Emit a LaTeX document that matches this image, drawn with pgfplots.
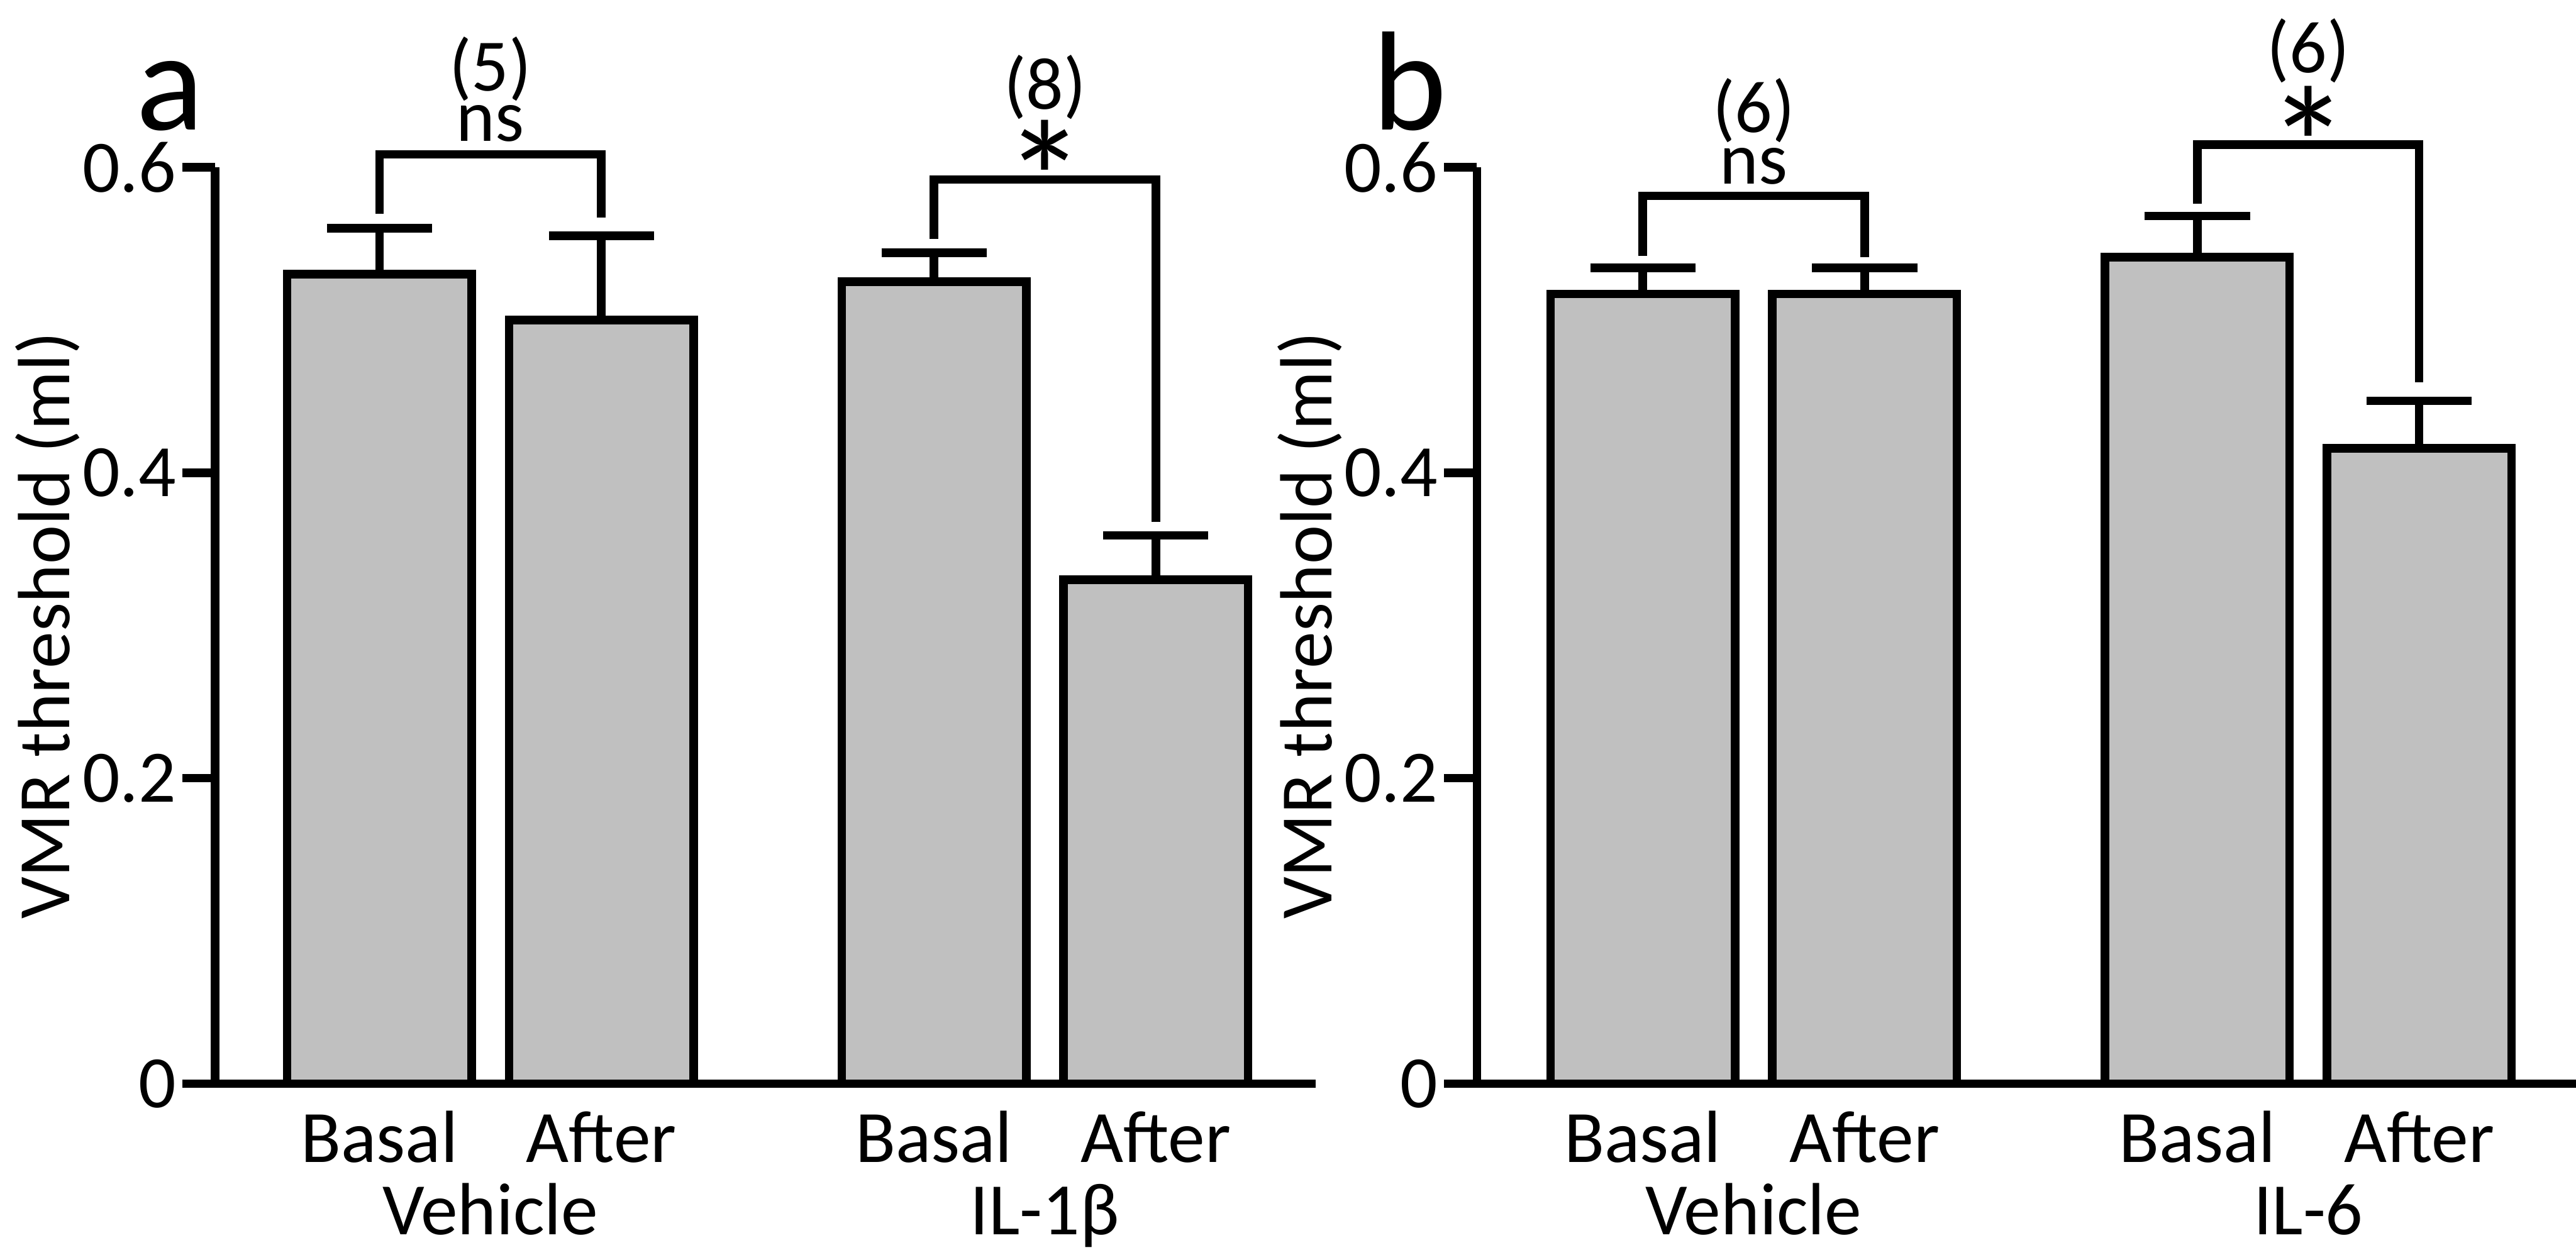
\documentclass[border=0pt]{standalone}
\usepackage{fontspec}
\setmainfont{Carlito}
\usepackage{pgfplots}
\pgfplotsset{compat=1.18}
\usepackage{pgfplotstable}

\definecolor{barfill}{RGB}{192,192,192}
\newcommand\lblfont{\fontsize{11.25}{13.5}\selectfont}
\newcommand\panelfont{\fontsize{21.5}{25}\selectfont}
\newcommand\starfont{\fontsize{25}{28}\selectfont}
\tikzset{ann/.style={anchor=base, inner sep=0pt}}

\pgfplotstableread{
x y e
0 0.530 0.030
1 0.500 0.055
2.5 0.525 0.019
3.5 0.330 0.029
}\dataA
\pgfplotstableread{
x y e
0 0.517 0.017
1 0.517 0.017
2.5 0.541 0.027
3.5 0.416 0.031
}\dataB

\pgfplotsset{
  vmr/.style={
    scale only axis, height=139.5pt, ymin=0, ymax=0.6,
    axis x line=bottom, axis y line=left,
    axis line style={-, line width=1.3pt, black},
    ytick={0,0.2,0.4,0.6}, yticklabels={0,0.2,0.4,0.6},
    xtick=\empty,
    tick align=outside, major tick length=5pt,
    y tick style={line width=1.3pt, black},
    yticklabel style={inner sep=0pt, xshift=-0.75pt},
    /pgf/number format/assume math mode=true,
    clip=false,
    ylabel={VMR threshold (ml)},
    ylabel style={at={(axis description cs:-0.1322,0.5)}, anchor=base},
    ybar, bar width=0.832,
  },
  bars/.style={fill=barfill, draw=black, line width=1.3pt,
    error bars/.cd, y dir=plus, y explicit,
    error bar style={line width=1.3pt, black},
    error mark options={rotate=90, mark size=8pt, line width=1.3pt, black}},
}

\begin{document}
\lblfont
\begin{tikzpicture}
\path[use as bounding box] (0,0) rectangle (392pt,190.25pt);

\begin{axis}[vmr, at={(32.75pt,25.3pt)}, anchor=south west,
  width=167.5pt, xmin=-0.7407, xmax=4.222]
\addplot[bars] table[x=x, y=y, y error=e] {\dataA};
\draw[line width=1.3pt, line join=miter] (axis cs:0,0.5697) -- (axis cs:0,0.6084) -- (axis cs:1,0.6084) -- (axis cs:1,0.567);
\draw[line width=1.3pt, line join=miter] (axis cs:2.5,0.553) -- (axis cs:2.5,0.592) -- (axis cs:3.5,0.592) -- (axis cs:3.5,0.368);
\node[ann] at (axis cs:0.5,0.617) {ns};
\node[ann] at (axis cs:0.5,0.6498) {(5)};
\node[ann] at (axis cs:3,0.6382) {(8)};
\node[ann, font=\starfont] at (axis cs:3,0.5545) {*};
\node[ann, yshift=-11.93pt] at (axis cs:0,0) {Basal};
\node[ann, yshift=-11.93pt] at (axis cs:1,0) {After};
\node[ann, yshift=-11.93pt] at (axis cs:2.5,0) {Basal};
\node[ann, yshift=-11.93pt] at (axis cs:3.5,0) {After};
\node[ann, yshift=-22.98pt] at (axis cs:0.5,0) {Vehicle};
\node[ann, yshift=-22.98pt] at (axis cs:3,0) {IL-1β};
\end{axis}

\begin{axis}[vmr, at={(224.75pt,25.3pt)}, anchor=south west,
  width=167.25pt, xmin=-0.748, xmax=4.207,
  ylabel style={at={(axis description cs:-0.1324,0.5)}}]
\addplot[bars] table[x=x, y=y, y error=e] {\dataB};
\draw[line width=1.3pt, line join=miter] (axis cs:0,0.542) -- (axis cs:0,0.5812) -- (axis cs:1,0.5812) -- (axis cs:1,0.541);
\draw[line width=1.3pt, line join=miter] (axis cs:2.5,0.576) -- (axis cs:2.5,0.6148) -- (axis cs:3.5,0.6148) -- (axis cs:3.5,0.459);
\node[ann] at (axis cs:0.5,0.589) {ns};
\node[ann] at (axis cs:0.5,0.6228) {(6)};
\node[ann] at (axis cs:3,0.662) {(6)};
\node[ann, font=\starfont] at (axis cs:3,0.5768) {*};
\node[ann, yshift=-11.93pt] at (axis cs:0,0) {Basal};
\node[ann, yshift=-11.93pt] at (axis cs:1,0) {After};
\node[ann, yshift=-11.93pt] at (axis cs:2.5,0) {Basal};
\node[ann, yshift=-11.93pt] at (axis cs:3.5,0) {After};
\node[ann, yshift=-22.98pt] at (axis cs:0.5,0) {Vehicle};
\node[ann, yshift=-22.98pt] at (axis cs:3,0) {IL-6};
\end{axis}

\node[ann, font=\panelfont] at (25.9pt,170.5pt) {a};
\node[ann, font=\panelfont] at (214.5pt,170.5pt) {b};
\end{tikzpicture}
\end{document}
